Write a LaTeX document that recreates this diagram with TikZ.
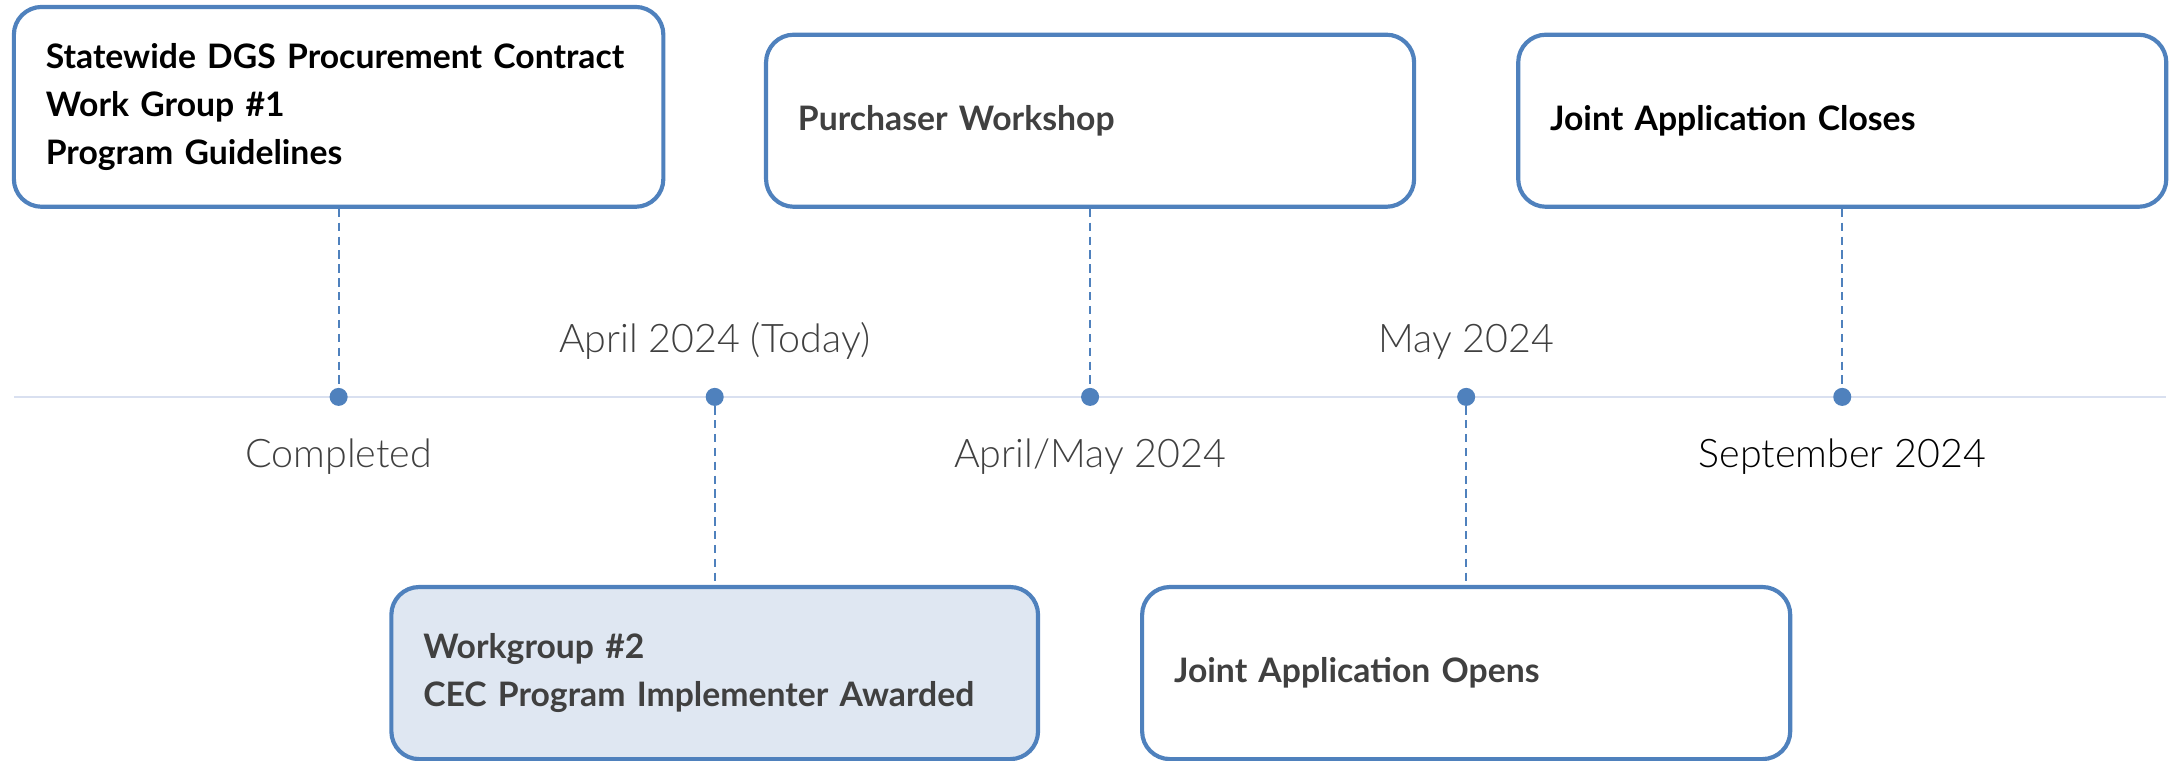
\documentclass[tikz,border=0pt]{standalone}
\usepackage{fontspec}
\setmainfont{Lato}
\newfontfamily\lightfont{Lato Light}
\definecolor{tlblue}{HTML}{4F81BD}
\definecolor{tlline}{HTML}{D9E0F0}
\definecolor{tlfill}{HTML}{DFE7F2}
\definecolor{tlgray}{HTML}{404040}
\begin{document}
\begin{tikzpicture}[x=1pt,y=-1pt,
  box/.style={draw=tlblue, line width=3pt, rounded corners=20pt, fill=white,
    align=left, text width=421pt, inner xsep=23pt, inner ysep=0pt,
    minimum height=124pt, font=\bfseries\fontsize{24.3}{34.5}\selectfont},
  dot/.style={circle, fill=tlblue, minimum size=13pt, inner sep=0pt},
  conn/.style={tlblue, line width=1.3pt, dash pattern=on 6pt off 4pt},
  lbl/.style={font=\lightfont\fontsize{28.4}{32}\selectfont, text=tlgray, anchor=base, inner sep=0pt}]
\useasboundingbox (0,0) rectangle (1568,548);
% timeline
\coordinate (L) at (10,286);
\coordinate (R) at (1561,286);
\draw[tlline, line width=1.5pt] (L) -- (R);
% dots
\node[dot] (d1) at (244,286) {};
\node[dot] (d2) at (515,286) {};
\node[dot] (d3) at (785.5,286) {};
\node[dot] (d4) at (1056.5,286) {};
\node[dot] (d5) at (1327.5,286) {};
% boxes
\node[box, text width=422pt, minimum height=144pt, text=black] (b1) at (244,77)
  {Statewide DGS Procurement Contract\\Work Group \#1\\Program Guidelines};
\node[box, text=tlgray] (b2) at (785.5,87) {Purchaser Workshop};
\node[box, text=black] (b3) at (1327.5,87) {Joint Application Closes};
\node[box, fill=tlfill, text=tlgray, text width=420pt] (b4) at (515,485)
  {Workgroup \#2\\CEC Program Implementer Awarded};
\node[box, text=tlgray] (b5) at (1056.5,485) {Joint Application Opens};
% connectors
\draw[conn] (b1.south) -- (d1);
\draw[conn] (d2) -- (b4.north);
\draw[conn] (b2.south) -- (d3);
\draw[conn] (d4) -- (b5.north);
\draw[conn] (b3.south) -- (d5);
% labels
\node[lbl] (l2) at (515,254) {April 2024 (Today)};
\node[lbl] (l4) at (1056.5,254) {May 2024};
\node[lbl] (l1) at (244,337) {Completed};
\node[lbl] (l3) at (785.5,337) {April/May 2024};
\node[lbl, text=black] (l5) at (1327.5,337) {September 2024};
\end{tikzpicture}
\end{document}
